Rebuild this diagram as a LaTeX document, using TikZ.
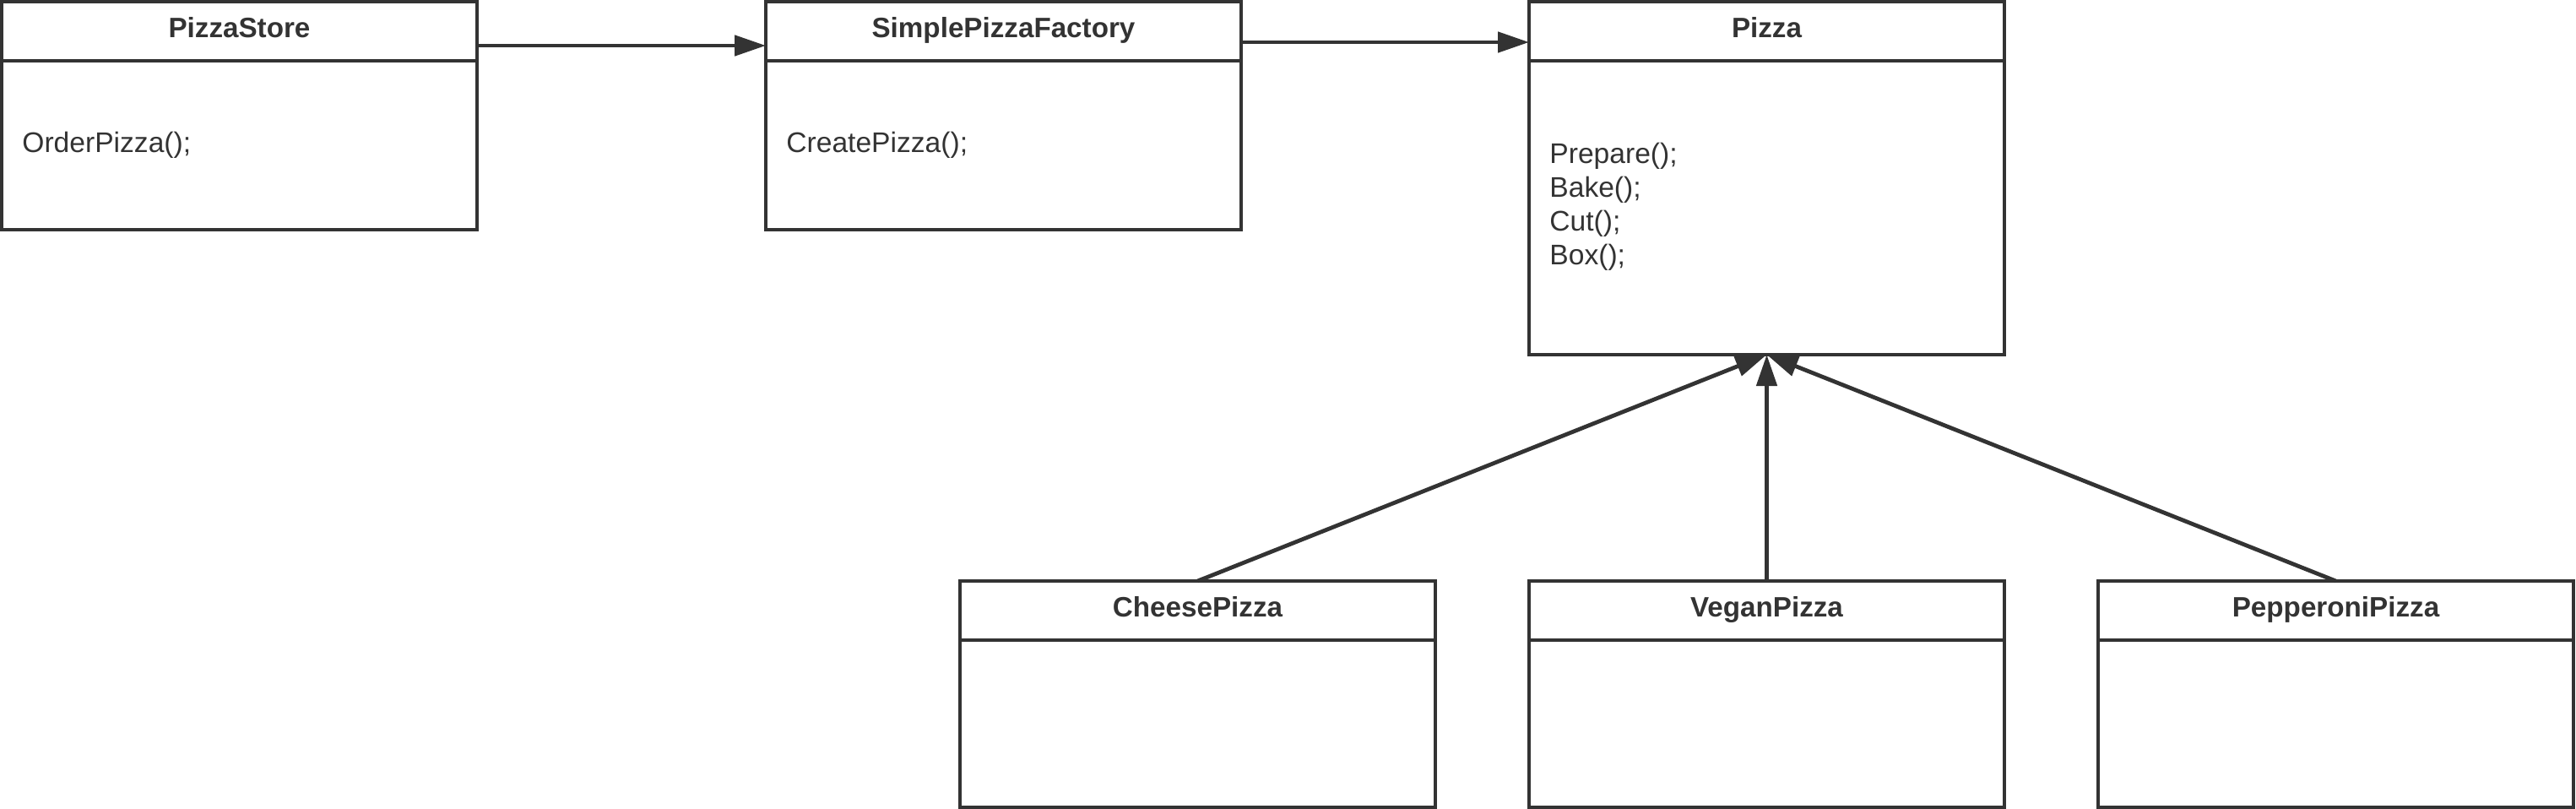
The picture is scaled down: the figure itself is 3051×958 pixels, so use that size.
\documentclass[tikz,border=0pt]{standalone}
\usepackage{fontspec}
\setmainfont{Liberation Sans}
\usetikzlibrary{arrows.meta}
\definecolor{ink}{HTML}{333333}
\begin{document}
\begin{tikzpicture}[x=0.5pt,y=-0.5pt,
 classbox/.style={draw=ink,line width=1.9pt,rectangle,inner sep=0pt,outer sep=0pt,anchor=north west,minimum width=281.5pt},
 divider/.style={draw=ink,line width=1.6pt},
 title/.style={font=\bfseries\fontsize{16.6}{19}\selectfont,text=ink,anchor=base,inner sep=0pt},
 body/.style={font=\fontsize{16.8}{20}\selectfont,text=ink,anchor=base west,inner sep=0pt},
 conn/.style={draw=ink,line width=2.4pt,-{Triangle[length=18.5pt,width=12pt]}}]
\useasboundingbox (0,0) rectangle (3051,958);
% top row
\node[classbox,minimum height=135pt] (ps) at (2,2) {};
\node[classbox,minimum height=135pt] (spf) at (907,2) {};
\node[classbox,minimum height=209pt] (pz) at (1811,2) {};
% bottom row
\node[classbox,minimum height=134pt] (ch) at (1137,688) {};
\node[classbox,minimum height=134pt] (vg) at (1811,688) {};
\node[classbox,minimum height=134pt] (pp) at (2485,688) {};
% dividers
\foreach \n in {ps,spf,pz,ch,vg,pp}{
  \draw[divider] ([yshift=-35pt]\n.north west) -- ([yshift=-35pt]\n.north east);
}
% titles
\node[title] (tps) at ([yshift=-21pt]ps.north) {PizzaStore};
\node[title] (tspf) at ([yshift=-21pt]spf.north) {SimplePizzaFactory};
\node[title] (tpz) at ([yshift=-21pt]pz.north) {Pizza};
\node[title] (tch) at ([yshift=-21pt]ch.north) {CheesePizza};
\node[title] (tvg) at ([yshift=-21pt]vg.north) {VeganPizza};
\node[title] (tpp) at ([yshift=-21pt]pp.north) {PepperoniPizza};
% bodies
\node[body] (bps) at ([xshift=12pt,yshift=-89pt]ps.north west) {OrderPizza();};
\node[body] (bspf) at ([xshift=12pt,yshift=-89pt]spf.north west) {CreatePizza();};
\node[body] (b1) at ([xshift=12pt,yshift=-95.5pt]pz.north west) {Prepare();};
\node[body] (b2) at ([xshift=12pt,yshift=-115.5pt]pz.north west) {Bake();};
\node[body] (b3) at ([xshift=12pt,yshift=-135.5pt]pz.north west) {Cut();};
\node[body] (b4) at ([xshift=12pt,yshift=-155.5pt]pz.north west) {Box();};
% connectors
\draw[conn] ([yshift=-26pt]ps.north east) -- ([yshift=-26pt]spf.north west);
\draw[conn] ([yshift=-24pt]spf.north east) -- ([yshift=-24pt]pz.north west);
\draw[conn] (ch.north) -- (pz.south);
\draw[conn] (vg.north) -- (pz.south);
\draw[conn] (pp.north) -- (pz.south);
\end{tikzpicture}
\end{document}
